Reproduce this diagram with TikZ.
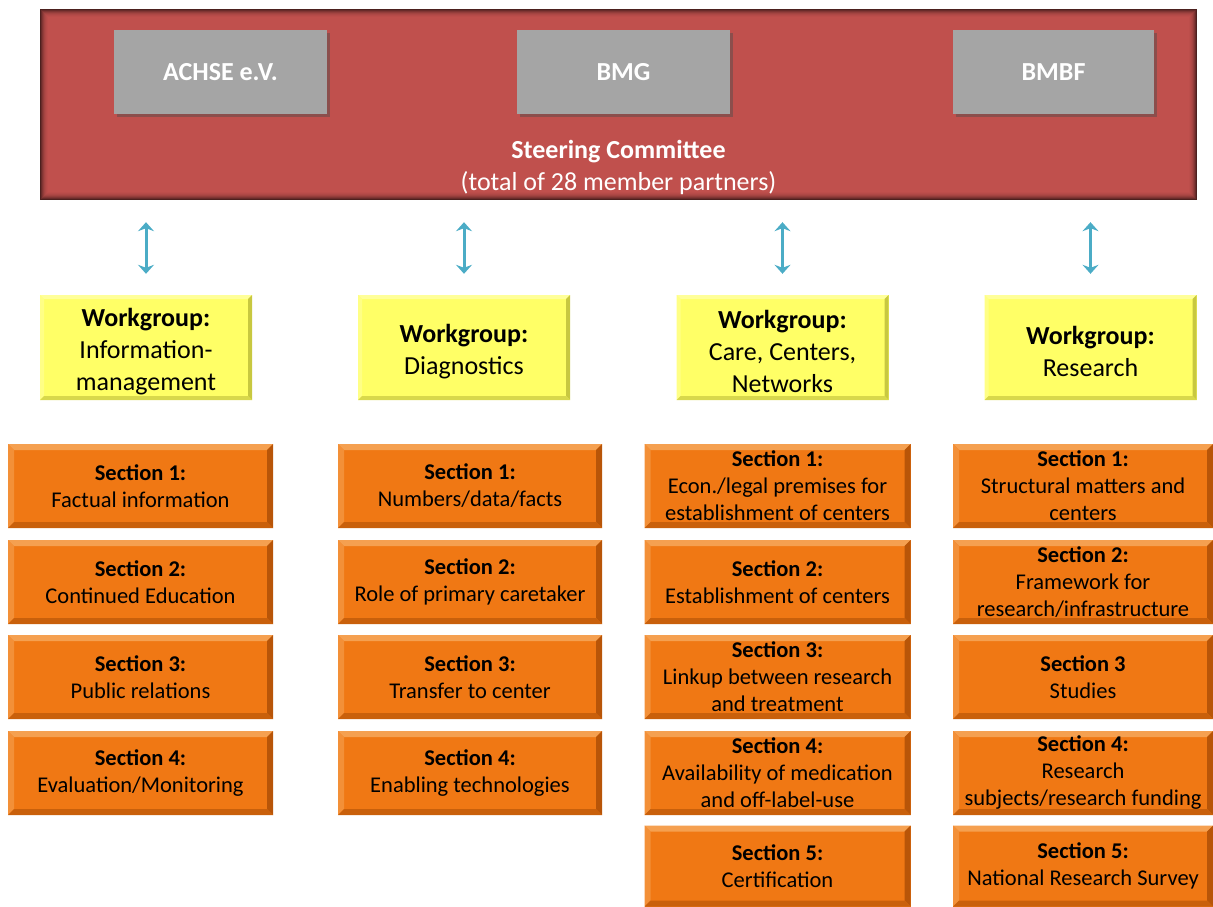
\documentclass[tikz,border=0pt]{standalone}
\usepackage{fontspec}
\setmainfont{Carlito}
\usetikzlibrary{arrows.meta,shadows}
\definecolor{redbox}{HTML}{C0504D}
\definecolor{graybox}{HTML}{A5A5A5}
\definecolor{yellowbox}{HTML}{FFFF66}
\definecolor{yellowlight}{HTML}{FFFF99}
\definecolor{yellowdark}{HTML}{C8C840}
\definecolor{orangebox}{HTML}{F07814}
\definecolor{orangelight}{HTML}{F5A050}
\definecolor{orangedark}{HTML}{B85508}
\definecolor{arrowc}{HTML}{4BACC6}
\newcommand{\wgtop}{\rule{0pt}{26pt}}
\tikzset{
  bevel/.style n args={4}{fill=#1, path picture={
    \path (path picture bounding box.south west) coordinate (bsw)
          (path picture bounding box.north east) coordinate (bne);
    \fill[#2] (bsw|-bne) -- (bne) -- ([shift={(-#4,-#4)}]bne) -- ([shift={(#4,-#4)}]bsw|-bne) -- cycle;
    \fill[#2!60!#1] (bsw) -- (bsw|-bne) -- ([shift={(#4,-#4)}]bsw|-bne) -- ([shift={(#4,#4)}]bsw) -- cycle;
    \fill[#3] (bne) -- (bne|-bsw) -- ([shift={(-#4,#4)}]bne|-bsw) -- ([shift={(-#4,-#4)}]bne) -- cycle;
    \fill[#3!70!#1] (bsw) -- (bne|-bsw) -- ([shift={(-#4,#4)}]bne|-bsw) -- ([shift={(#4,#4)}]bsw) -- cycle;
  }},
  grayb/.style={fill=graybox, minimum width=213pt, minimum height=84pt, inner sep=0pt,
    text=white, font=\fontsize{26}{30}\selectfont\bfseries,
    drop shadow={shadow xshift=3pt, shadow yshift=-3pt, opacity=0.45, fill=black!70}},
  wgbox/.style={bevel={yellowbox}{yellowlight}{yellowdark}{4pt}, minimum width=212pt, minimum height=105pt,
    inner sep=0pt, align=center, font=\fontsize{26}{32}\selectfont},
  secbox/.style={bevel={orangebox}{orangelight}{orangedark}{6pt}, minimum height=84pt,
    inner sep=0pt, align=center, font=\fontsize{22.5}{27}\selectfont},
  biarrow/.style={arrowc, line width=3pt, {Stealth[length=9pt,width=16pt,inset=3pt]}-{Stealth[length=9pt,width=16pt,inset=3pt]}},
}
\begin{document}
\begin{tikzpicture}[x=1pt,y=-1pt]
\useasboundingbox (0,0) rectangle (1213,907);
% steering committee
\node[fill=redbox, minimum width=1157pt, minimum height=191pt, inner sep=0pt] (steer) at (618.5,104.5) {};
\foreach \i/\o in {0.5/0.6,1.5/0.45,2.5/0.33,3.5/0.23,4.5/0.15,5.5/0.09,6.5/0.05,7.5/0.02}{
  \draw[black, opacity=\o, line width=1pt]
    ([shift={(\i pt,-\i pt)}]steer.north west) rectangle ([shift={(-\i pt,\i pt)}]steer.south east);
}
\node[grayb] (achse) at (220.5,72) {ACHSE e.V.};
\node[grayb] (bmg) at (623.5,72) {BMG};
\node[grayb, minimum width=201pt] (bmbf) at (1053.5,72) {BMBF};
\node[text=white, align=center, font=\fontsize{26}{32}\selectfont] (steertxt) at (618.5,167)
  {\textbf{Steering Committee}\\(total of 28 member partners)};
% workgroups
\node[wgbox] (wg1) at (146,347.5) {\wgtop\textbf{Workgroup:}\\Information-\\management};
\node[wgbox] (wg2) at (464,347.5) {\wgtop\textbf{Workgroup:}\\Diagnostics};
\node[wgbox] (wg3) at (782.5,347.5) {\wgtop\textbf{Workgroup:}\\Care, Centers,\\Networks};
\node[wgbox] (wg4) at (1090.5,347.5) {\wgtop\textbf{Workgroup:}\\Research};
\foreach \w in {wg1,wg2,wg3,wg4}{
  \draw[biarrow, shorten <=22pt, shorten >=21pt] (\w.north |- steer.south) -- (\w.north);
}
% sections column 1
\begin{scope}[every node/.append style={secbox, minimum width=265pt}]
\node (a1) at (140.5,486) {\textbf{Section 1:}\\Factual information};
\node (a2) at (140.5,582) {\textbf{Section 2:}\\Continued Education};
\node (a3) at (140.5,677) {\textbf{Section 3:}\\Public relations};
\node (a4) at (140.5,773) {\textbf{Section 4:}\\Evaluation/Monitoring};
\end{scope}
\begin{scope}[every node/.append style={secbox, minimum width=264pt}]
\node (b1) at (470,486) {\textbf{Section 1:}\\Numbers/data/facts};
\node (b2) at (470,582) {\textbf{Section 2:}\\Role of primary caretaker};
\node (b3) at (470,677) {\textbf{Section 3:}\\Transfer to center};
\node (b4) at (470,773) {\textbf{Section 4:}\\Enabling technologies};
\end{scope}
\begin{scope}[every node/.append style={secbox, minimum width=266pt}]
\node (c1) at (777.5,486) {\textbf{Section 1:}\\Econ./legal premises for\\establishment of centers};
\node (c2) at (777.5,582) {\textbf{Section 2:}\\Establishment of centers};
\node (c3) at (777.5,677) {\textbf{Section 3:}\\Linkup between research\\and treatment};
\node (c4) at (777.5,773) {\textbf{Section 4:}\\Availability of medication\\and off-label-use};
\node[minimum height=81pt] (c5) at (777.5,866) {\textbf{Section 5:}\\Certification};
\end{scope}
\begin{scope}[every node/.append style={secbox, minimum width=260pt}]
\node (d1) at (1083,486) {\textbf{Section 1:}\\Structural matters and\\centers};
\node (d2) at (1083,582) {\textbf{Section 2:}\\Framework for\\research/infrastructure};
\node (d3) at (1083,677) {\textbf{Section 3}\\Studies};
\node (d4) at (1083,773) {\textbf{Section 4:}\\Research\\subjects/research funding};
\node[minimum height=81pt] (d5) at (1083,866) {\textbf{Section 5:}\\National Research Survey};
\end{scope}
\end{tikzpicture}
\end{document}
